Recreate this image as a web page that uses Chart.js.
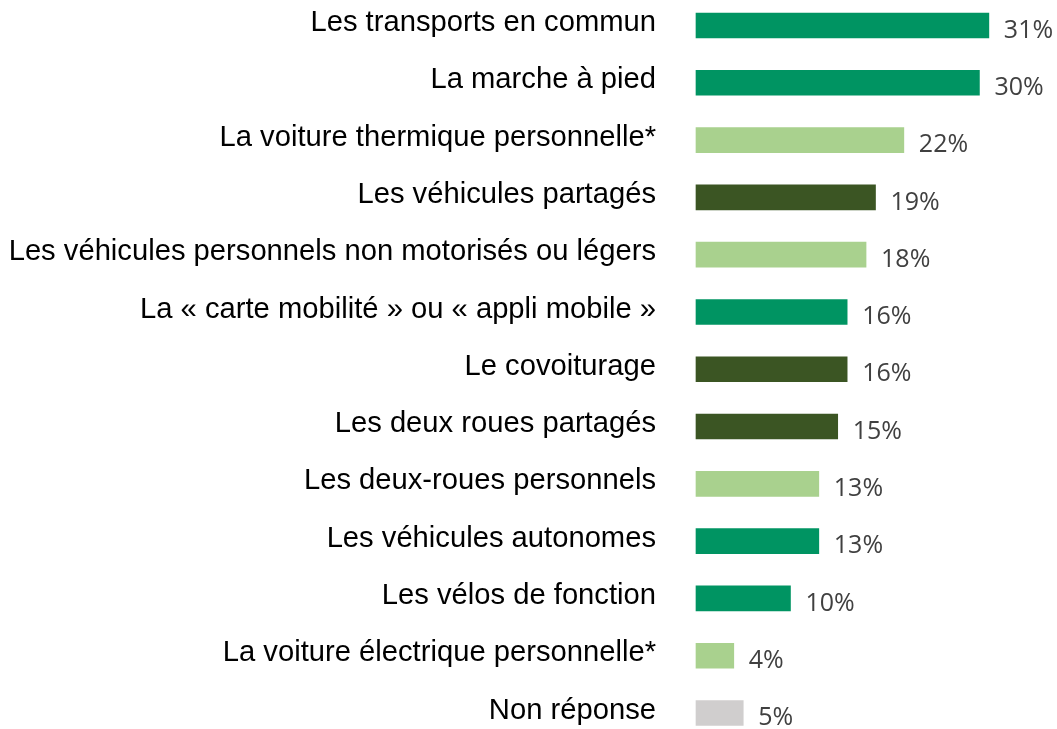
<!DOCTYPE html>
<html lang="fr">
<head>
<meta charset="utf-8">
<script src="https://cdn.jsdelivr.net/npm/chart.js@4/dist/chart.umd.min.js"></script>
<style>
    html, body { margin: 0; padding: 0; background: #fff; }
    #wrap { width: 1057px; height: 729px; }
</style>
</head>
<body>
<div id="wrap"><canvas id="chart"></canvas></div>
<script>
'use strict';

const categories = [
    "Les transports en commun",
    "La marche à pied",
    "La voiture thermique personnelle*",
    "Les véhicules partagés",
    "Les véhicules personnels non motorisés ou légers",
    "La « carte mobilité » ou « appli mobile »",
    "Le covoiturage",
    "Les deux roues partagés",
    "Les deux-roues personnels",
    "Les véhicules autonomes",
    "Les vélos de fonction",
    "La voiture électrique personnelle*",
    "Non réponse"
];
const values = [31, 30, 22, 19, 18, 16, 16, 15, 13, 13, 10, 4, 5];
const groups = ["g", "g", "l", "o", "l", "g", "o", "o", "l", "g", "g", "l", "n"];

const palette = { g: "#009462", l: "#A9D18E", o: "#3B5523", n: "#D0CECE" };

// Étiquettes de valeur à droite des barres
const valueLabels = {
    id: 'valueLabels',
    afterDatasetsDraw(chart) {
        const ctx = chart.ctx;
        const meta = chart.getDatasetMeta(0);
        ctx.save();
        ctx.font = '25px "Open Sans", sans-serif';
        ctx.fillStyle = '#404040';
        ctx.textAlign = 'left';
        ctx.textBaseline = 'middle';
        meta.data.forEach((bar, i) => {
            ctx.fillText(values[i] + '%', bar.x + 15, bar.y + 5);
        });
        ctx.restore();
    }
};

new Chart(document.getElementById('chart'), {
    type: 'bar',
    data: {
        labels: categories,
        datasets: [{
            data: values,
            backgroundColor: groups.map(g => palette[g]),
            barThickness: 25,
            clip: false
        }]
    },
    options: {
        indexAxis: 'y',
        responsive: true,
        maintainAspectRatio: false,
        animation: false,
        layout: { padding: { top: 25.5, bottom: 16, left: 0, right: 2 } },
        plugins: {
            legend: { display: false },
            tooltip: { enabled: false }
        },
        scales: {
            x: {
                display: false,
                min: 0,
                max: 38
            },
            y: {
                offset: false,
                grid: { display: false, drawTicks: false },
                border: { display: false },
                ticks: {
                    color: '#000',
                    font: { family: '"Liberation Sans", Arial, sans-serif', size: 29.2 },
                    padding: 40,
                    labelOffset: -2.5,
                    autoSkip: false
                },
                afterFit(scale) {
                    scale.width = 696;
                    scale.paddingTop = 0;
                    scale.paddingBottom = 0;
                }
            }
        }
    },
    plugins: [valueLabels]
});
</script>
</body>
</html>
